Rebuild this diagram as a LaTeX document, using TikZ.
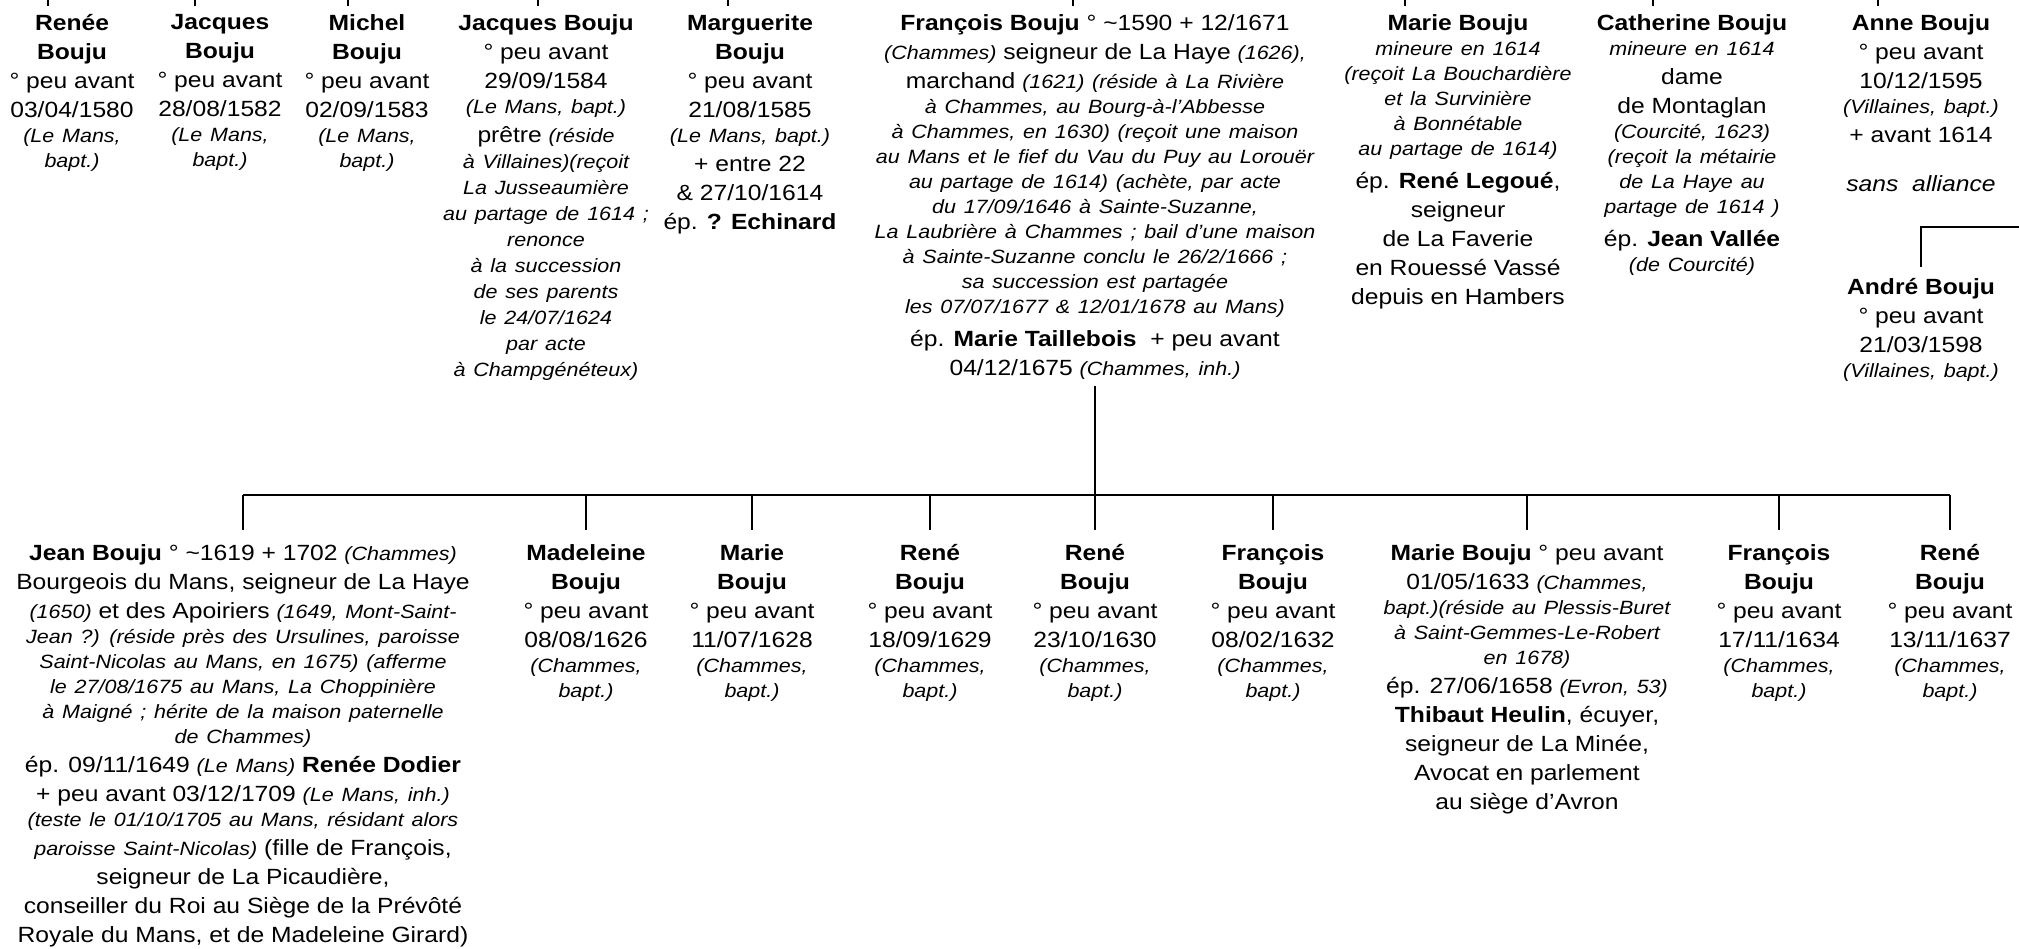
\documentclass[tikz,border=0pt]{standalone}
\usepackage{fontspec}
\setmainfont{Liberation Sans}[FakeStretch=1.12]
\usepackage{tikz}
\usetikzlibrary{calc}

\newcommand\nom[1]{\textbf{#1}}
\newcommand\lieu[1]{{\fontsize{9.6}{12.5}\selectfont\itshape\spaceskip=3.9pt plus 1pt\relax #1}}

\begin{document}
\begin{tikzpicture}[x=0.5pt, y=-0.5pt,
    personne/.style={anchor=north, align=center, inner sep=0pt, font=\fontsize{11}{14.5}\selectfont},
    lien/.style={line width=1.1pt}]
  \useasboundingbox (0,0) rectangle (2019,948);

  % freres et soeurs
  \node[personne] (renee) at (72,14) {\nom{Renée}\\ \nom{Bouju}\\ ° peu avant\\ 03/04/1580\\[-2pt] \lieu{(Le Mans,}\\[-2pt] \lieu{bapt.)}};
  \node[personne] (jacquesA) at (220,14) {\nom{Jacques}\\ \nom{Bouju}\\ ° peu avant\\ 28/08/1582\\[-2pt] \lieu{(Le Mans,}\\[-2pt] \lieu{bapt.)}};
  \node[personne] (michel) at (367,14) {\nom{Michel}\\ \nom{Bouju}\\ ° peu avant\\ 02/09/1583\\[-2pt] \lieu{(Le Mans,}\\[-2pt] \lieu{bapt.)}};
  \node[personne] (jacquesB) at (546,14) {\nom{Jacques Bouju}\\ ° peu avant\\ 29/09/1584\\[-2pt] \lieu{(Le Mans, bapt.)}\\ prêtre \lieu{(réside}\\[-1.5pt] \lieu{à Villaines)(reçoit}\\[-1.5pt] \lieu{La Jusseaumière}\\[-1.5pt] \lieu{au partage de 1614 ;}\\[-1.5pt] \lieu{renonce}\\[-1.5pt] \lieu{à la succession}\\[-1.5pt] \lieu{de ses parents}\\[-1.5pt] \lieu{le 24/07/1624}\\[-1.5pt] \lieu{par acte}\\[-1.5pt] \lieu{à Champgénéteux)}};
  \node[personne] (marguerite) at (750,14) {\nom{Marguerite}\\ \nom{Bouju}\\ ° peu avant\\ 21/08/1585\\[-2pt] \lieu{(Le Mans, bapt.)}\\ + entre 22\\ \& 27/10/1614\\ ép. \nom{? Echinard}};
  \node[personne] (francois) at (1095,14) {\nom{François Bouju} ° \textasciitilde1590 + 12/1671\\ \lieu{(Chammes)} seigneur de La Haye \lieu{(1626),}\\ marchand \lieu{(1621) (réside à La Rivière}\\[-2pt] \lieu{à Chammes, au Bourg-à-l’Abbesse}\\[-2pt] \lieu{à Chammes, en 1630) (reçoit une maison}\\[-2pt] \lieu{au Mans et le fief du Vau du Puy au Lorouër}\\[-2pt] \lieu{au partage de 1614) (achète, par acte}\\[-2pt] \lieu{du 17/09/1646 à Sainte-Suzanne,}\\[-2pt] \lieu{La Laubrière à Chammes ; bail d’une maison}\\[-2pt] \lieu{à Sainte-Suzanne conclu le 26/2/1666 ;}\\[-2pt] \lieu{sa succession est partagée}\\[-2pt] \lieu{les 07/07/1677 \& 12/01/1678 au Mans)}\\[2pt] ép. \nom{Marie Taillebois}\ \ + peu avant\\ 04/12/1675 \lieu{(Chammes, inh.)}};
  \node[personne] (marieA) at (1458,14) {\nom{Marie Bouju}\\[-2pt] \lieu{mineure en 1614}\\[-2pt] \lieu{(reçoit La Bouchardière}\\[-2pt] \lieu{et la Survinière}\\[-2pt] \lieu{à Bonnétable}\\[-2pt] \lieu{au partage de 1614)}\\[2pt] ép. \nom{René Legoué},\\ seigneur\\ de La Faverie\\ en Rouessé Vassé\\ depuis en Hambers};
  \node[personne] (catherine) at (1692,14) {\nom{Catherine Bouju}\\[-2pt] \lieu{mineure en 1614}\\ dame\\ de Montaglan\\[-2pt] \lieu{(Courcité, 1623)}\\[-2pt] \lieu{(reçoit la métairie}\\[-2pt] \lieu{de La Haye au}\\[-2pt] \lieu{partage de 1614 )}\\[2pt] ép. \nom{Jean Vallée}\\[-2pt] \lieu{(de Courcité)}};
  \node[personne] (anne) at (1921,14) {\nom{Anne Bouju}\\ ° peu avant\\ 10/12/1595\\[-2pt] \lieu{(Villaines, bapt.)}\\ + avant 1614\\[10pt] {\itshape sans\ \ alliance}};
  \node[personne] (andre) at (1921,278) {\nom{André Bouju}\\ ° peu avant\\ 21/03/1598\\[-2pt] \lieu{(Villaines, bapt.)}};

  % enfants
  \node[personne] (jean) at (243,544) {\nom{Jean Bouju} ° \textasciitilde1619 + 1702 \lieu{(Chammes)}\\ Bourgeois du Mans, seigneur de La Haye\\ \lieu{(1650)} et des Apoiriers \lieu{(1649, Mont-Saint-}\\[-2pt] \lieu{Jean ?) (réside près des Ursulines, paroisse}\\[-2pt] \lieu{Saint-Nicolas au Mans, en 1675) (afferme}\\[-2pt] \lieu{le 27/08/1675 au Mans, La Choppinière}\\[-2pt] \lieu{à Maigné ; hérite de la maison paternelle}\\[-2pt] \lieu{de Chammes)}\\ ép. 09/11/1649 \lieu{(Le Mans)} \nom{Renée Dodier}\\ + peu avant 03/12/1709 \lieu{(Le Mans, inh.)}\\[-2pt] \lieu{(teste le 01/10/1705 au Mans, résidant alors}\\ \lieu{paroisse Saint-Nicolas)} (fille de François,\\ seigneur de La Picaudière,\\ conseiller du Roi au Siège de la Prévôté\\ Royale du Mans, et de Madeleine Girard)};
  \node[personne] (madeleine) at (586,544) {\nom{Madeleine}\\ \nom{Bouju}\\ ° peu avant\\ 08/08/1626\\[-2pt] \lieu{(Chammes,}\\[-2pt] \lieu{bapt.)}};
  \node[personne] (marieB) at (752,544) {\nom{Marie}\\ \nom{Bouju}\\ ° peu avant\\ 11/07/1628\\[-2pt] \lieu{(Chammes,}\\[-2pt] \lieu{bapt.)}};
  \node[personne] (reneA) at (930,544) {\nom{René}\\ \nom{Bouju}\\ ° peu avant\\ 18/09/1629\\[-2pt] \lieu{(Chammes,}\\[-2pt] \lieu{bapt.)}};
  \node[personne] (reneB) at (1095,544) {\nom{René}\\ \nom{Bouju}\\ ° peu avant\\ 23/10/1630\\[-2pt] \lieu{(Chammes,}\\[-2pt] \lieu{bapt.)}};
  \node[personne] (francoisB) at (1273,544) {\nom{François}\\ \nom{Bouju}\\ ° peu avant\\ 08/02/1632\\[-2pt] \lieu{(Chammes,}\\[-2pt] \lieu{bapt.)}};
  \node[personne] (marieC) at (1527,544) {\nom{Marie Bouju} ° peu avant\\ 01/05/1633 \lieu{(Chammes,}\\[-2pt] \lieu{bapt.)(réside au Plessis-Buret}\\[-2pt] \lieu{à Saint-Gemmes-Le-Robert}\\[-2pt] \lieu{en 1678)}\\ ép. 27/06/1658 \lieu{(Evron, 53)}\\ \nom{Thibaut Heulin}, écuyer,\\ seigneur de La Minée,\\ Avocat en parlement\\ au siège d’Avron};
  \node[personne] (francoisC) at (1779,544) {\nom{François}\\ \nom{Bouju}\\ ° peu avant\\ 17/11/1634\\[-2pt] \lieu{(Chammes,}\\[-2pt] \lieu{bapt.)}};
  \node[personne] (reneC) at (1950,544) {\nom{René}\\ \nom{Bouju}\\ ° peu avant\\ 13/11/1637\\[-2pt] \lieu{(Chammes,}\\[-2pt] \lieu{bapt.)}};

  % liens
  \coordinate (barre) at (0,495);
  \coordinate (versandre) at (2019,227);
  \foreach \sx/\nd in {48/renee, 195/jacquesA, 348/michel, 538/jacquesB, 728/marguerite, 1073/francois, 1405/marieA, 1653/catherine, 1878/anne}{
    \coordinate (haut-\nd) at (\sx,0);
    \draw[lien, shorten >=4pt] (haut-\nd) -- (haut-\nd |- \nd.north);
  }
  \draw[lien, shorten <=3pt] (francois.south) -- (francois.south |- barre);
  \draw[lien, line width=1.3pt] (jean.north |- barre) -- (reneC.north |- barre);
  \foreach \nd in {jean, madeleine, marieB, reneA, reneB, francoisB, marieC, francoisC, reneC}
    \draw[lien, shorten >=7pt] (\nd.north |- barre) -- (\nd.north);
  \draw[lien, shorten >=5.5pt] (versandre) -| (andre.north);
\end{tikzpicture}
\end{document}
